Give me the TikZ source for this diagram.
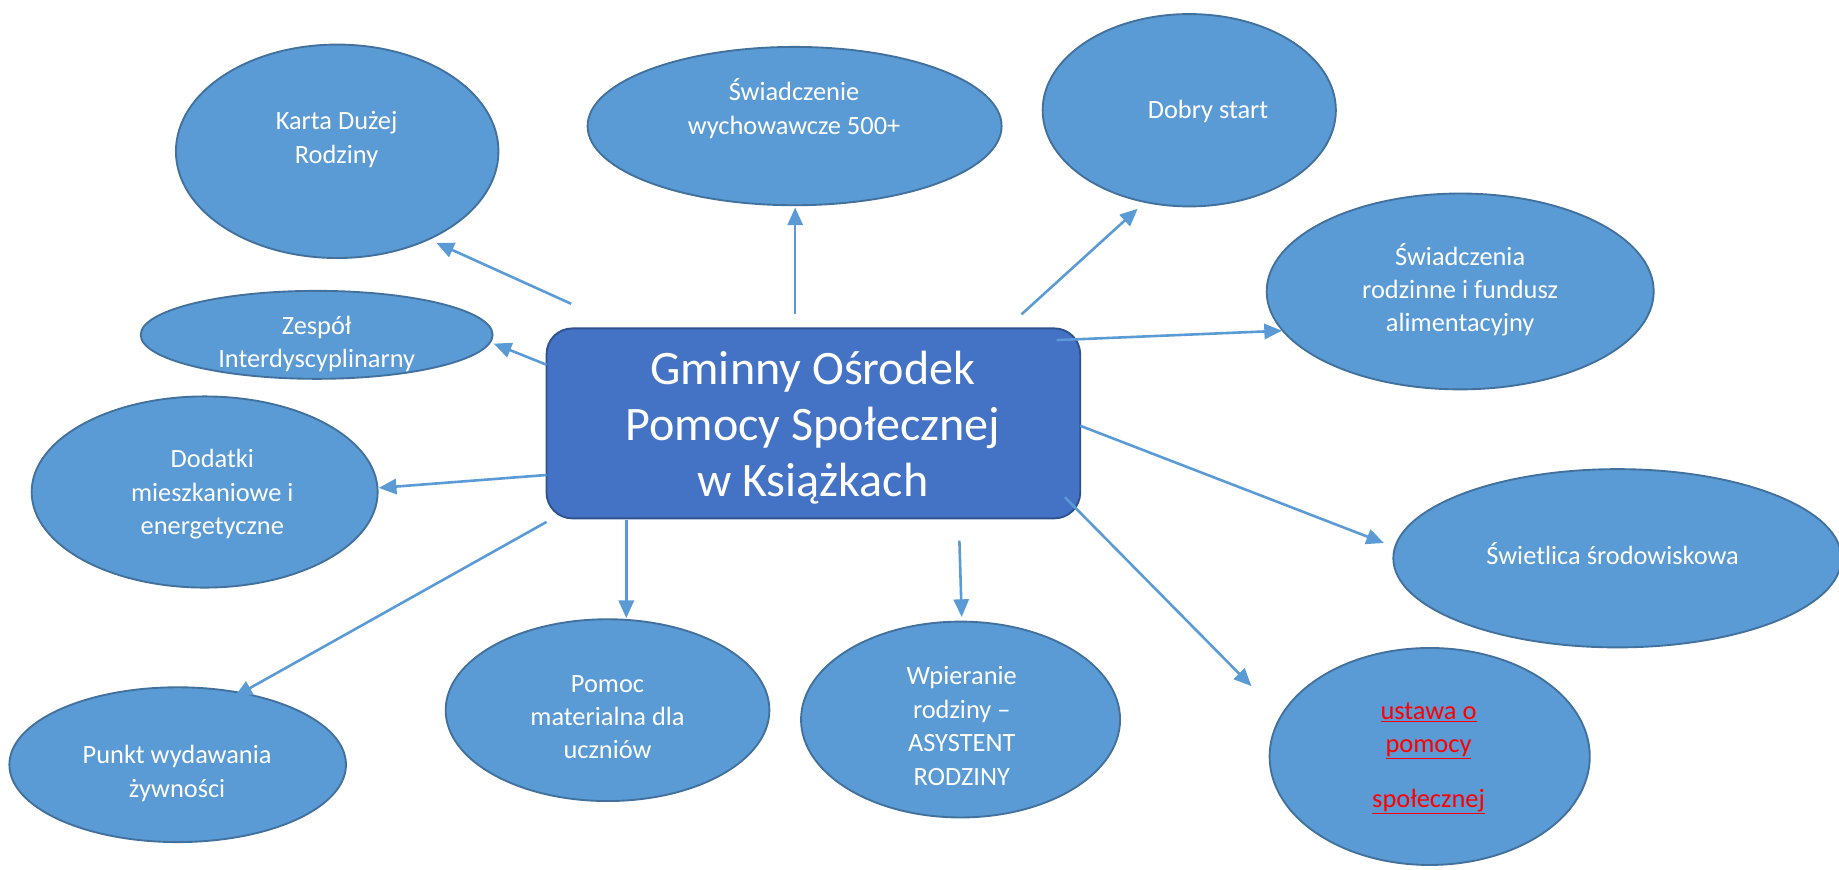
\documentclass[tikz,border=0pt]{standalone}
\usepackage{fontspec}
\setmainfont{Carlito}
\usetikzlibrary{shapes.geometric,arrows.meta}
\definecolor{ellfill}{HTML}{5B9BD5}
\definecolor{elldraw}{HTML}{41719C}
\definecolor{boxfill}{HTML}{4472C4}
\definecolor{boxdraw}{HTML}{2F528F}
\definecolor{arrcol}{HTML}{5B9BD5}
\definecolor{linkred}{HTML}{FF0000}
\begin{document}
\begin{tikzpicture}[x=1pt,y=-1pt,
  ell/.style={ellipse, fill=ellfill, draw=elldraw, line width=1.6pt, inner sep=0pt},
  txt/.style={text=white, font=\fontsize{22.5}{28.5}\selectfont, align=center, inner sep=0pt},
  bigtxt/.style={text=white, font=\fontsize{41}{48}\selectfont, align=center, inner sep=0pt},
  arr/.style={draw=arrcol, line width=2.2pt, -{Triangle[length=15pt,width=13pt]}}]
\useasboundingbox (0,0) rectangle (1568,741);
\fill[white] (0,0) rectangle (1568,741);

% ellipses
\node[ell, minimum width=275pt, minimum height=182pt] (karta) at (287.5,129) {};
\node[ell, minimum width=353pt, minimum height=135pt] (w500) at (677.5,107.5) {};
\node[ell, minimum width=250pt, minimum height=164pt] (dobry) at (1014,94) {};
\node[ell, minimum width=330pt, minimum height=167pt] (swiad) at (1245,248.5) {};
\node[ell, minimum width=382pt, minimum height=152pt] (swietl) at (1379,476) {};
\node[ell, minimum width=273pt, minimum height=185pt] (ustawa) at (1219,645) {};
\node[ell, minimum width=300pt, minimum height=75pt] (zespol) at (270,285.5) {};
\node[ell, minimum width=295pt, minimum height=163pt] (dodatki) at (174.5,419.5) {};
\node[ell, minimum width=287pt, minimum height=132pt] (punkt) at (151.5,652) {};
\node[ell, minimum width=276pt, minimum height=155pt] (pomoc) at (518,605.5) {};
\node[ell, minimum width=272pt, minimum height=167pt] (wpier) at (819,613.5) {};

% central box
\node[draw=boxdraw, fill=boxfill, line width=1.6pt, rounded corners=22pt,
      minimum width=455pt, minimum height=162pt, inner sep=0pt] (gops) at (693.5,361) {};

% texts
\node[txt] (kartaT) at (287,119) {Karta Dużej\\Rodziny};
\node[txt] (w500T) at (677,92.5) {Świadczenie\\wychowawcze 500+};
\node[txt] (dobryT) at (1030,95) {Dobry start};
\node[txt] (swiadT) at (1245,247) {Świadczenia\\rodzinne i fundusz\\alimentacyjny};
\node[txt] (swietlT) at (1375,472) {Świetlica środowiskowa};
\node[txt, text=linkred] (ustawaT) at (1218,646.5) {\underline{ustawa o}\\\underline{pomocy}\\[18pt]\underline{społecznej}};
\node[txt] (zespolT) at (270,293.5) {Zespół\\Interdyscyplinarny};
\node[txt] (dodatkiT) at (181,421.5) {Dodatki\\mieszkaniowe i\\energetyczne};
\node[txt] (punktT) at (151,659.5) {Punkt wydawania\\żywności};
\node[txt] (pomocT) at (518,611.5) {Pomoc\\materialna dla\\uczniów};
\node[txt] (wpierT) at (820,619) {Wpieranie\\rodziny –\\ASYSTENT\\RODZINY};
\node[bigtxt] (gopsT) at (693,364.5) {Gminny Ośrodek\\ Pomocy Społecznej\\w Książkach};

% arrow end points
\coordinate (sK) at (487,259);   \coordinate (eK) at (372,207);
\coordinate (s5) at (678,268);   \coordinate (e5) at (678,177);
\coordinate (sD) at (871,268);   \coordinate (eD) at (970,178);
\coordinate (sS) at (901,290);   \coordinate (eS) at (1093,282);
\coordinate (sZ) at (466,311);   \coordinate (eZ) at (421,293);
\coordinate (sM) at (466,405);   \coordinate (eM) at (323,416);
\coordinate (sP) at (466,445);   \coordinate (eP) at (200,594);
\coordinate (sU) at (534,443);   \coordinate (eU) at (534,527);
\coordinate (sW) at (818,461);   \coordinate (eW) at (820,526);
\coordinate (sL) at (921,363);   \coordinate (eL) at (1180,463);
\coordinate (sA) at (908,424);   \coordinate (eA) at (1067,585);

\draw[arr] (sK) -- (eK);
\draw[arr] (s5) -- (e5);
\draw[arr] (sD) -- (eD);
\draw[arr] (sS) -- (eS);
\draw[arr] (sZ) -- (eZ);
\draw[arr] (sM) -- (eM);
\draw[arr] (sP) -- (eP);
\draw[arr] (sU) -- (eU);
\draw[arr] (sW) -- (eW);
\draw[arr] (sL) -- (eL);
\draw[arr] (sA) -- (eA);
\end{tikzpicture}
\end{document}
